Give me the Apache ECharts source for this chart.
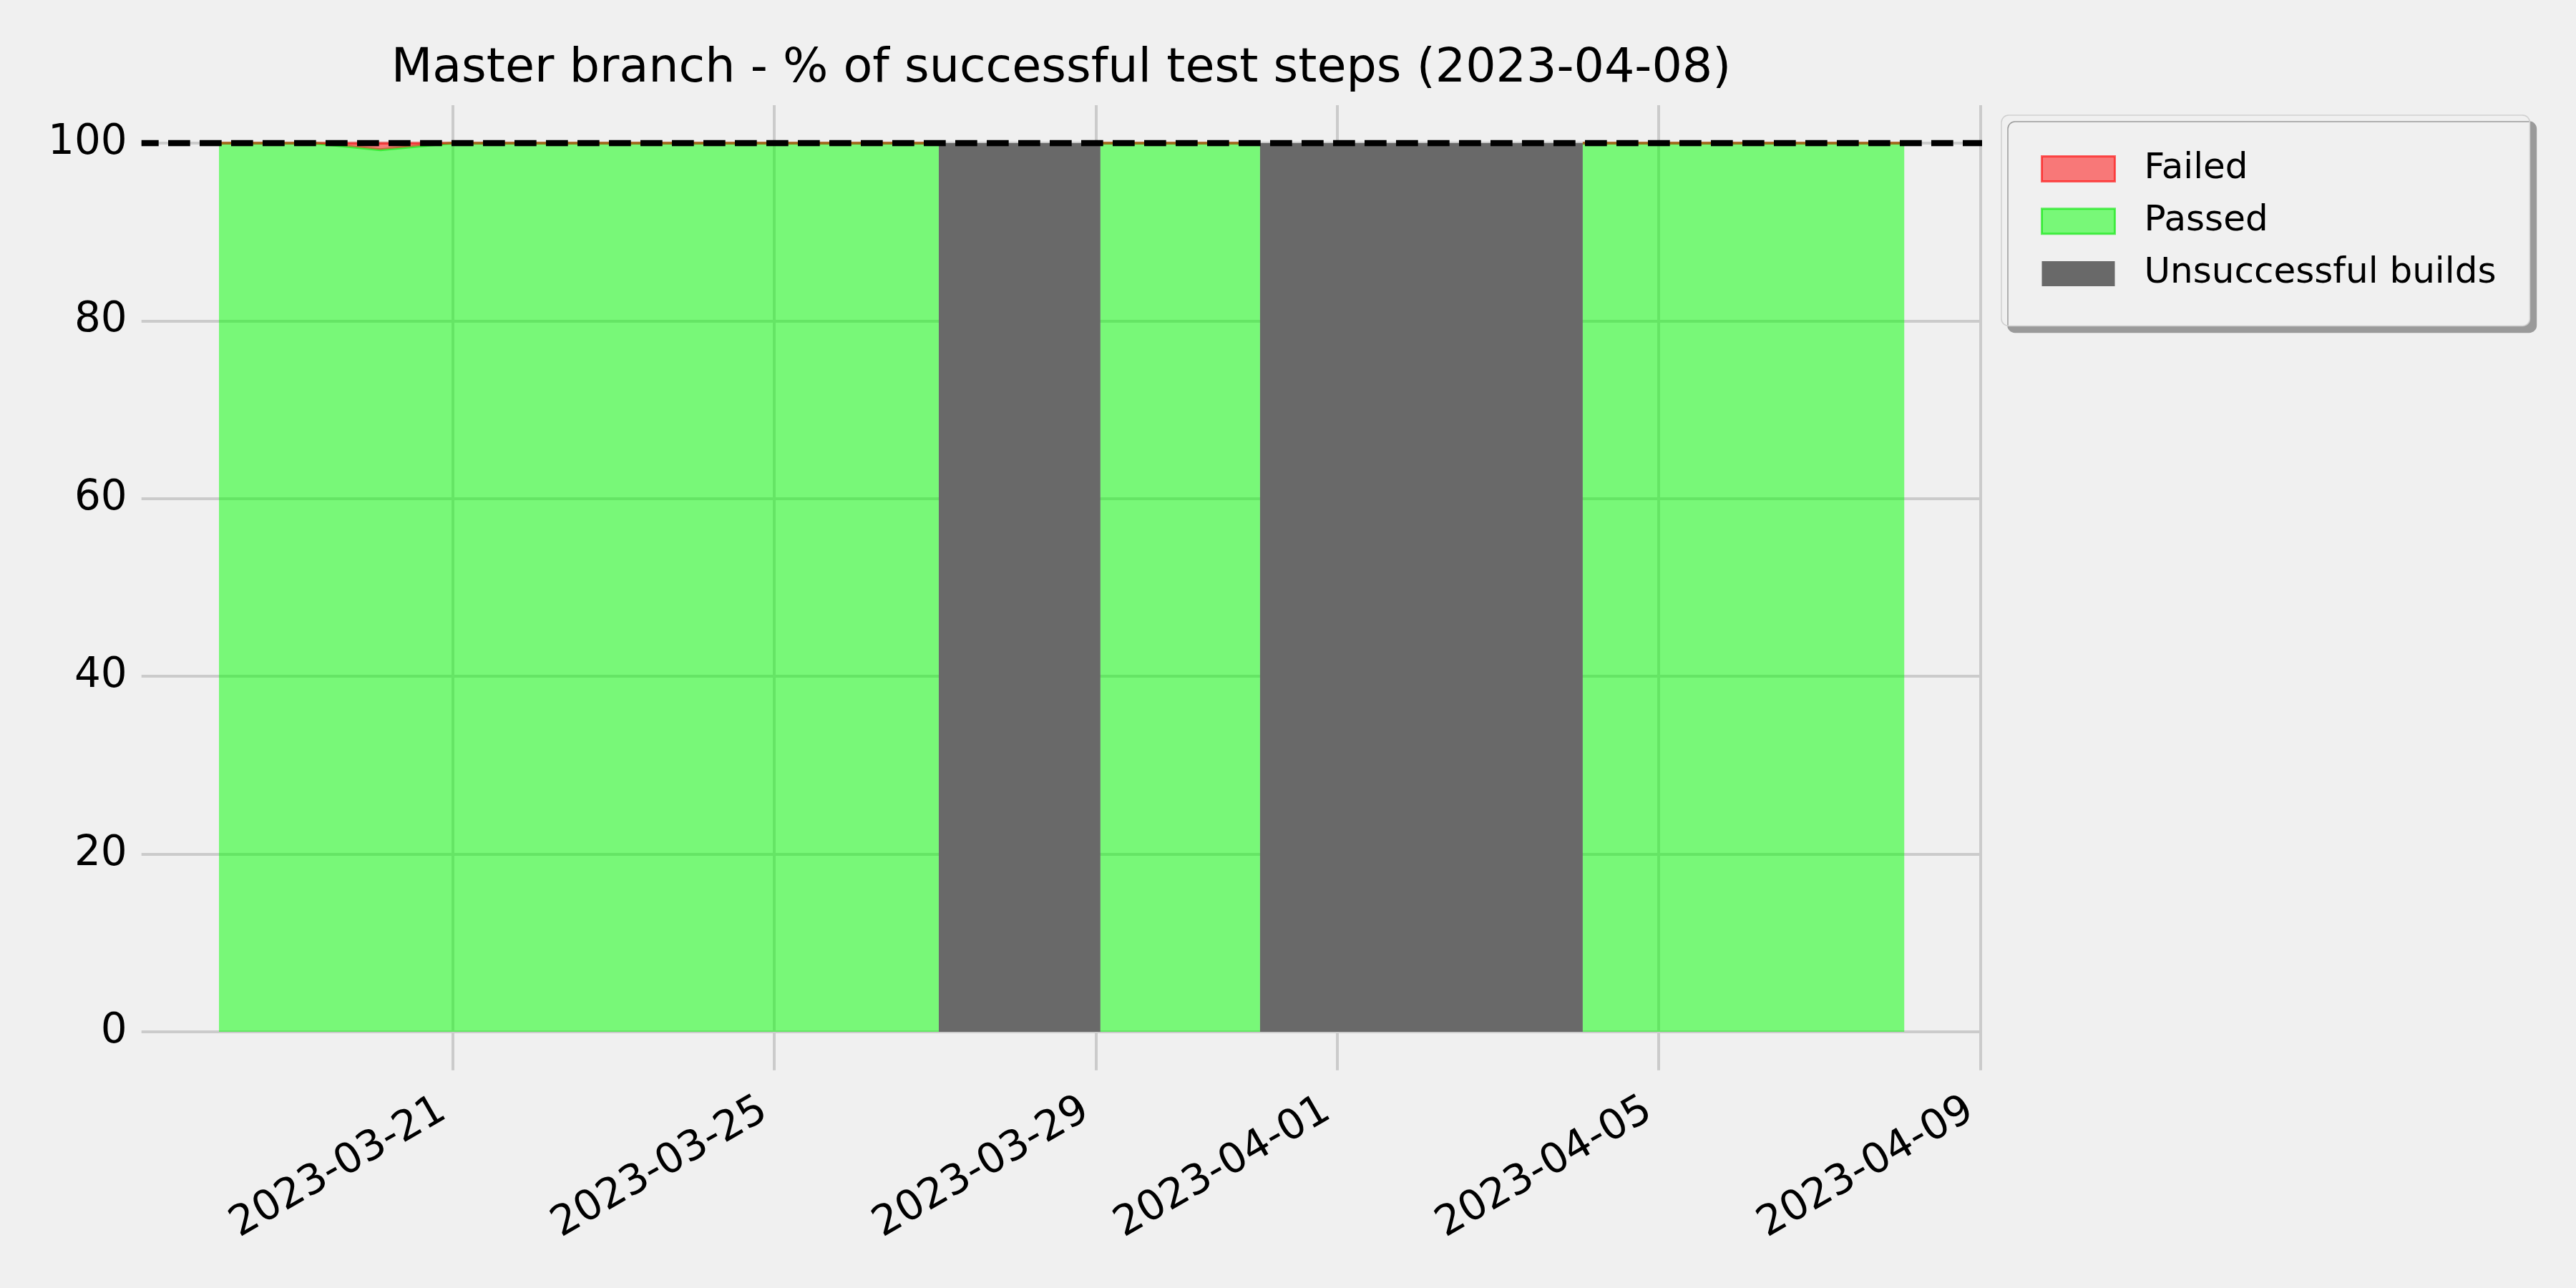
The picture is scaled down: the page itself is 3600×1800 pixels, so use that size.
<!DOCTYPE html>
<html>
<head>
<meta charset="utf-8">
<script src="https://cdn.jsdelivr.net/npm/echarts@6/dist/echarts.min.js"></script>
<style>
html,body{margin:0;padding:0;background:#f0f0f0;}
#chart{width:3600px;height:1800px;}
</style>
</head>
<body>
<div id="chart"></div>
<script>
// ---- data ----
const titleText = 'Master branch - % of successful test steps (2023-04-08)';
const seriesNames = ['Failed', 'Passed', 'Unsuccessful builds'];
const tickDates = ['2023-03-21', '2023-03-25', '2023-03-29', '2023-04-01', '2023-04-05', '2023-04-09'];
const yTicks = [0, 20, 40, 60, 80, 100];
const buildTimes = [
  '2023-03-18T02:14Z', '2023-03-19T06:52Z', '2023-03-20T02:25Z', '2023-03-20T23:25Z',
  '2023-03-22T01:10Z', '2023-03-23T01:10Z', '2023-03-24T01:10Z', '2023-03-25T01:10Z',
  '2023-03-26T01:10Z', '2023-03-27T01:05Z', '2023-03-28T01:10Z', '2023-03-29T01:20Z',
  '2023-03-30T01:05Z', '2023-03-31T00:58Z', '2023-04-01T01:10Z', '2023-04-02T01:10Z',
  '2023-04-03T01:10Z', '2023-04-04T01:18Z', '2023-04-05T01:10Z', '2023-04-06T01:10Z',
  '2023-04-07T01:10Z', '2023-04-08T01:16Z'
];
const passedPct = [100, 100, 99.25, 100, 100, 100, 100, 100, 100, 100, null, 100,
                   100, 100, null, null, null, 100, 100, 100, 100, 100];
const failedPct = [0, 0, 0.75, 0, 0, 0, 0, 0, 0, 0, null, 0,
                   0, 0, null, null, null, 0, 0, 0, 0, 0];
const unsuccessfulPct = [null, null, null, null, null, null, null, null, null, 100, 100, 100,
                         null, 100, 100, 100, 100, 100, null, null, null, null];
const targetLine = 100;

// ---- layout ----
const X_MIN = Date.parse('2023-03-17T03:06:00Z');
const X_MAX = Date.parse('2023-04-09T00:30:00Z');
const Y_MIN = -4.32, Y_MAX = 104.27;
const FONT = 'DejaVu Sans';

const t = buildTimes.map(s => Date.parse(s));
const pairs = arr => arr.map((v, i) => [t[i], v === null ? '-' : v]);
const tickMs = tickDates.map(d => Date.parse(d + 'T00:00:00Z'));

const chart = echarts.init(document.getElementById('chart'), null, {renderer: 'canvas'});
chart.setOption({
  animation: false,
  backgroundColor: '#f0f0f0',
  title: {
    text: titleText,
    left: 1478,
    top: 58,
    textAlign: 'center',
    textStyle: {fontFamily: FONT, fontSize: 66.7, fontWeight: 'normal', color: '#000'}
  },
  grid: {left: 197.7, top: 147, width: 2572.3, height: 1348.7, outerBoundsMode: 'none'},
  legend: {
    orient: 'vertical',
    left: 2797, top: 161,
    padding: [50, 47, 48, 55],
    itemWidth: 102, itemHeight: 35, itemGap: 23.2,
    icon: 'rect',
    backgroundColor: '#f0f0f0',
    borderColor: '#cfcfcf', borderWidth: 1.5, borderRadius: 10,
    shadowColor: '#9a9a9a', shadowOffsetX: 9, shadowOffsetY: 9, shadowBlur: 0,
    textStyle: {fontFamily: FONT, fontSize: 50, color: '#000', lineHeight: 35, padding: [0, 0, 0, 36]},
    data: [
      {name: seriesNames[0], itemStyle: {color: 'rgba(255,0,0,0.5)', borderColor: 'rgba(255,0,0,0.6)', borderWidth: 3}},
      {name: seriesNames[1], itemStyle: {color: 'rgba(0,255,0,0.5)', borderColor: 'rgba(0,230,0,0.6)', borderWidth: 3}},
      {name: seriesNames[2], itemStyle: {color: '#696969', borderWidth: 0}}
    ]
  },
  xAxis: [
    {
      type: 'value',
      min: X_MIN, max: X_MAX,
      axisLine: {show: false},
      axisTick: {show: false, customValues: tickMs},
      splitLine: {show: true, lineStyle: {color: '#cbcbcb', width: 4}},
      axisLabel: {
        customValues: tickMs,
        rotate: 30, margin: 44, padding: [0, 16, 0, 0],
        fontFamily: FONT, fontSize: 58, color: '#000',
        formatter: v => new Date(v).toISOString().slice(0, 10)
      }
    },
    {
      type: 'time', show: false,
      min: X_MIN, max: X_MAX,
      splitLine: {show: false}
    }
  ],
  yAxis: {
    type: 'value',
    min: Y_MIN, max: Y_MAX,
    axisLine: {show: false},
    axisTick: {show: false, customValues: yTicks},
    splitLine: {show: true, lineStyle: {color: '#cbcbcb', width: 4}},
    axisLabel: {customValues: yTicks, margin: 20, padding: [9, 0, 0, 0], fontFamily: FONT, fontSize: 58, color: '#000'}
  },
  series: [
    {
      name: seriesNames[2], type: 'line', z: 2, xAxisIndex: 1,
      data: pairs(unsuccessfulPct),
      showSymbol: false, symbol: 'none',
      itemStyle: {color: '#696969'},
      lineStyle: {width: 0, color: '#696969'},
      areaStyle: {color: '#696969', opacity: 1}
    },
    {
      name: seriesNames[1], type: 'line', stack: 'pct', z: 3, xAxisIndex: 1,
      data: pairs(passedPct),
      showSymbol: false, symbol: 'none',
      itemStyle: {color: 'rgba(0,255,0,0.5)'},
      lineStyle: {width: 4, color: 'rgba(0,230,0,0.55)'},
      areaStyle: {color: 'rgba(0,255,0,0.5)', opacity: 1}
    },
    {
      name: seriesNames[0], type: 'line', stack: 'pct', z: 4, xAxisIndex: 1,
      data: pairs(failedPct),
      showSymbol: false, symbol: 'none',
      itemStyle: {color: 'rgba(255,0,0,0.5)'},
      lineStyle: {width: 4, color: 'rgba(255,0,0,0.5)'},
      areaStyle: {color: 'rgba(255,0,0,0.5)', opacity: 1}
    },
    {
      name: 'target', type: 'line', z: 10, xAxisIndex: 1, data: [],
      markLine: {
        silent: true, symbol: ['none', 'none'], label: {show: false},
        lineStyle: {color: '#000', width: 8.3, type: [30.7, 13.3], dashOffset: 6.7},
        emphasis: {disabled: true},
        data: [{yAxis: targetLine}]
      }
    }
  ]
});
</script>
</body>
</html>
